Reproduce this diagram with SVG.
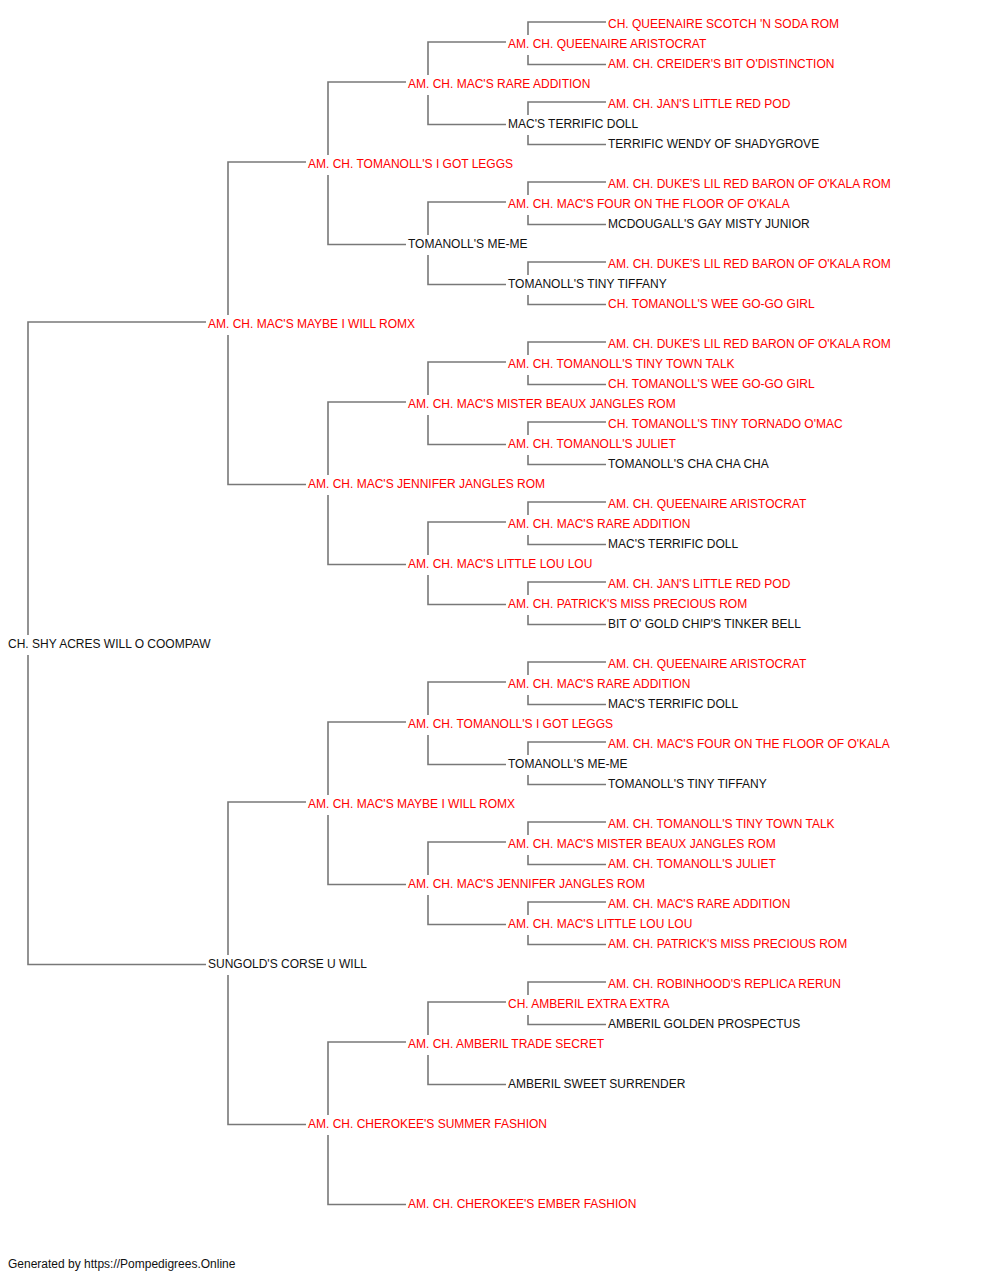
<svg xmlns="http://www.w3.org/2000/svg" width="1000" height="1280" viewBox="0 0 1000 1280">
<style>
text{font-family:"Liberation Sans",Arial,sans-serif;font-size:12px}
.r{fill:#ff0000}
.b{fill:#111}
.c{fill:none;stroke:#787878;stroke-width:1.6}
</style>
<rect width="1000" height="1280" fill="#fff"/>
<g id="connectors" class="c">
<path d="M206 322H28V635M28 655V964.5H206"/>
<path d="M306 162H228V315M228 335V484.5H306"/>
<path d="M306 802H228V955M228 975V1124.5H306"/>
<path d="M406 82H328V155M328 175V244.5H406"/>
<path d="M406 402H328V475M328 495V564.5H406"/>
<path d="M406 722H328V795M328 815V884.5H406"/>
<path d="M406 1042H328V1115M328 1135V1204.5H406"/>
<path d="M506 42H428V75M428 95V124.5H506"/>
<path d="M506 202H428V235M428 255V284.5H506"/>
<path d="M506 362H428V395M428 415V444.5H506"/>
<path d="M506 522H428V555M428 575V604.5H506"/>
<path d="M506 682H428V715M428 735V764.5H506"/>
<path d="M506 842H428V875M428 895V924.5H506"/>
<path d="M506 1002H428V1035M428 1055V1084.5H506"/>
<path d="M606 22H528V35M528 55V64.5H606"/>
<path d="M606 102H528V115M528 135V144.5H606"/>
<path d="M606 182H528V195M528 215V224.5H606"/>
<path d="M606 262H528V275M528 295V304.5H606"/>
<path d="M606 342H528V355M528 375V384.5H606"/>
<path d="M606 422H528V435M528 455V464.5H606"/>
<path d="M606 502H528V515M528 535V544.5H606"/>
<path d="M606 582H528V595M528 615V624.5H606"/>
<path d="M606 662H528V675M528 695V704.5H606"/>
<path d="M606 742H528V755M528 775V784.5H606"/>
<path d="M606 822H528V835M528 855V864.5H606"/>
<path d="M606 902H528V915M528 935V944.5H606"/>
<path d="M606 982H528V995M528 1015V1024.5H606"/>
</g>
<g id="n0"><text class="r" x="608" y="28">CH. QUEENAIRE SCOTCH 'N SODA ROM</text></g>
<g id="n1"><text class="r" x="508" y="48">AM. CH. QUEENAIRE ARISTOCRAT</text></g>
<g id="n2"><text class="r" x="608" y="68">AM. CH. CREIDER'S BIT O'DISTINCTION</text></g>
<g id="n3"><text class="r" x="408" y="88">AM. CH. MAC'S RARE ADDITION</text></g>
<g id="n4"><text class="r" x="608" y="108">AM. CH. JAN'S LITTLE RED POD</text></g>
<g id="n5"><text class="b" x="508" y="128">MAC'S TERRIFIC DOLL</text></g>
<g id="n6"><text class="b" x="608" y="148">TERRIFIC WENDY OF SHADYGROVE</text></g>
<g id="n7"><text class="r" x="308" y="168">AM. CH. TOMANOLL'S I GOT LEGGS</text></g>
<g id="n8"><text class="r" x="608" y="188">AM. CH. DUKE'S LIL RED BARON OF O'KALA ROM</text></g>
<g id="n9"><text class="r" x="508" y="208">AM. CH. MAC'S FOUR ON THE FLOOR OF O'KALA</text></g>
<g id="n10"><text class="b" x="608" y="228">MCDOUGALL'S GAY MISTY JUNIOR</text></g>
<g id="n11"><text class="b" x="408" y="248">TOMANOLL'S ME-ME</text></g>
<g id="n12"><text class="r" x="608" y="268">AM. CH. DUKE'S LIL RED BARON OF O'KALA ROM</text></g>
<g id="n13"><text class="b" x="508" y="288">TOMANOLL'S TINY TIFFANY</text></g>
<g id="n14"><text class="r" x="608" y="308">CH. TOMANOLL'S WEE GO-GO GIRL</text></g>
<g id="n15"><text class="r" x="208" y="328">AM. CH. MAC'S MAYBE I WILL ROMX</text></g>
<g id="n16"><text class="r" x="608" y="348">AM. CH. DUKE'S LIL RED BARON OF O'KALA ROM</text></g>
<g id="n17"><text class="r" x="508" y="368">AM. CH. TOMANOLL'S TINY TOWN TALK</text></g>
<g id="n18"><text class="r" x="608" y="388">CH. TOMANOLL'S WEE GO-GO GIRL</text></g>
<g id="n19"><text class="r" x="408" y="408">AM. CH. MAC'S MISTER BEAUX JANGLES ROM</text></g>
<g id="n20"><text class="r" x="608" y="428">CH. TOMANOLL'S TINY TORNADO O'MAC</text></g>
<g id="n21"><text class="r" x="508" y="448">AM. CH. TOMANOLL'S JULIET</text></g>
<g id="n22"><text class="b" x="608" y="468">TOMANOLL'S CHA CHA CHA</text></g>
<g id="n23"><text class="r" x="308" y="488">AM. CH. MAC'S JENNIFER JANGLES ROM</text></g>
<g id="n24"><text class="r" x="608" y="508">AM. CH. QUEENAIRE ARISTOCRAT</text></g>
<g id="n25"><text class="r" x="508" y="528">AM. CH. MAC'S RARE ADDITION</text></g>
<g id="n26"><text class="b" x="608" y="548">MAC'S TERRIFIC DOLL</text></g>
<g id="n27"><text class="r" x="408" y="568">AM. CH. MAC'S LITTLE LOU LOU</text></g>
<g id="n28"><text class="r" x="608" y="588">AM. CH. JAN'S LITTLE RED POD</text></g>
<g id="n29"><text class="r" x="508" y="608">AM. CH. PATRICK'S MISS PRECIOUS ROM</text></g>
<g id="n30"><text class="b" x="608" y="628">BIT O' GOLD CHIP'S TINKER BELL</text></g>
<g id="n31"><text class="b" x="8" y="648">CH. SHY ACRES WILL O COOMPAW</text></g>
<g id="n32"><text class="r" x="608" y="668">AM. CH. QUEENAIRE ARISTOCRAT</text></g>
<g id="n33"><text class="r" x="508" y="688">AM. CH. MAC'S RARE ADDITION</text></g>
<g id="n34"><text class="b" x="608" y="708">MAC'S TERRIFIC DOLL</text></g>
<g id="n35"><text class="r" x="408" y="728">AM. CH. TOMANOLL'S I GOT LEGGS</text></g>
<g id="n36"><text class="r" x="608" y="748">AM. CH. MAC'S FOUR ON THE FLOOR OF O'KALA</text></g>
<g id="n37"><text class="b" x="508" y="768">TOMANOLL'S ME-ME</text></g>
<g id="n38"><text class="b" x="608" y="788">TOMANOLL'S TINY TIFFANY</text></g>
<g id="n39"><text class="r" x="308" y="808">AM. CH. MAC'S MAYBE I WILL ROMX</text></g>
<g id="n40"><text class="r" x="608" y="828">AM. CH. TOMANOLL'S TINY TOWN TALK</text></g>
<g id="n41"><text class="r" x="508" y="848">AM. CH. MAC'S MISTER BEAUX JANGLES ROM</text></g>
<g id="n42"><text class="r" x="608" y="868">AM. CH. TOMANOLL'S JULIET</text></g>
<g id="n43"><text class="r" x="408" y="888">AM. CH. MAC'S JENNIFER JANGLES ROM</text></g>
<g id="n44"><text class="r" x="608" y="908">AM. CH. MAC'S RARE ADDITION</text></g>
<g id="n45"><text class="r" x="508" y="928">AM. CH. MAC'S LITTLE LOU LOU</text></g>
<g id="n46"><text class="r" x="608" y="948">AM. CH. PATRICK'S MISS PRECIOUS ROM</text></g>
<g id="n47"><text class="b" x="208" y="968">SUNGOLD'S CORSE U WILL</text></g>
<g id="n48"><text class="r" x="608" y="988">AM. CH. ROBINHOOD'S REPLICA RERUN</text></g>
<g id="n49"><text class="r" x="508" y="1008">CH. AMBERIL EXTRA EXTRA</text></g>
<g id="n50"><text class="b" x="608" y="1028">AMBERIL GOLDEN PROSPECTUS</text></g>
<g id="n51"><text class="r" x="408" y="1048">AM. CH. AMBERIL TRADE SECRET</text></g>
<g id="n53"><text class="b" x="508" y="1088">AMBERIL SWEET SURRENDER</text></g>
<g id="n55"><text class="r" x="308" y="1128">AM. CH. CHEROKEE'S SUMMER FASHION</text></g>
<g id="n59"><text class="r" x="408" y="1208">AM. CH. CHEROKEE'S EMBER FASHION</text></g>
<g id="footer"><text class="b" x="8" y="1268">Generated by https://Pompedigrees.Online</text></g>
</svg>
